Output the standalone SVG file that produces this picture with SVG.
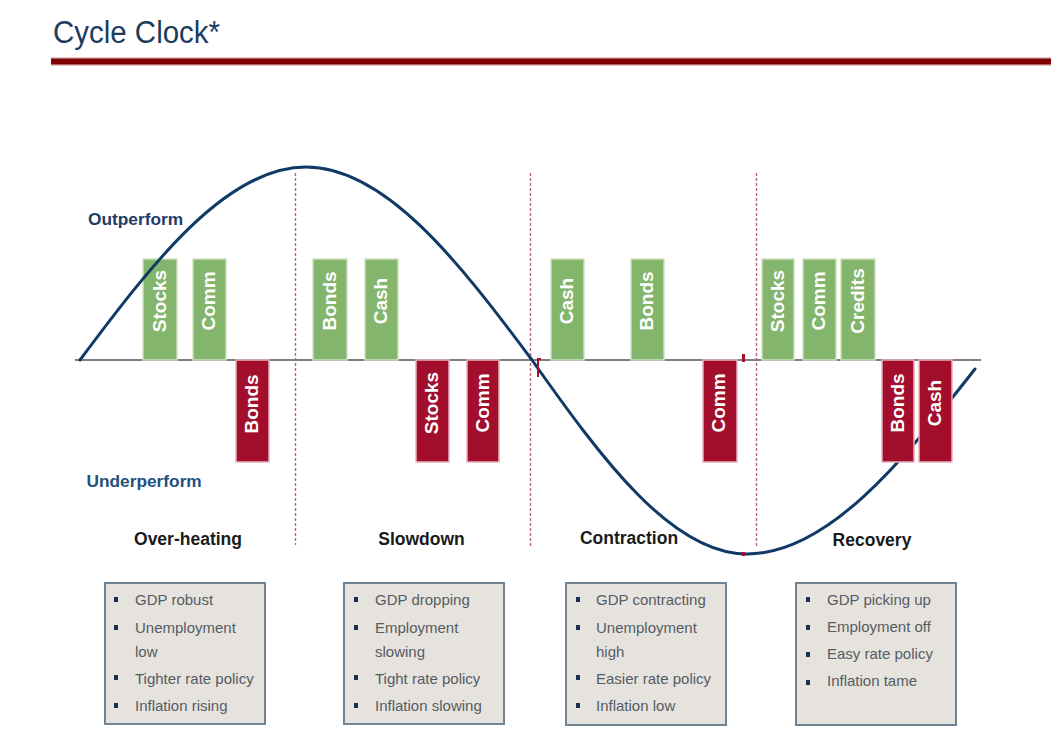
<svg xmlns="http://www.w3.org/2000/svg" width="1051" height="730" viewBox="0 0 1051 730">
  <style>
    .title { font-family: "Liberation Sans", Arial, sans-serif; font-size: 31px; fill: #1c3c5e; }
    .perf { font-family: "Liberation Sans", Arial, sans-serif; font-size: 17.3px; font-weight: bold; fill: #1f3c68; }
    .phase { font-family: "Liberation Sans", Arial, sans-serif; font-size: 17.5px; font-weight: bold; fill: #1a1a1a; text-anchor: middle; }
    .gbar { fill: #84b56d; stroke: #cfe0c2; stroke-width: 1.5; }
    .rbar { fill: #a20e2c; stroke: #e3b3bd; stroke-width: 1.5; }
    .blab { font-family: "Liberation Sans", Arial, sans-serif; font-size: 19px; font-weight: bold; fill: #ffffff; text-anchor: middle; }
    .box { fill: #e6e3df; stroke: #718494; stroke-width: 2; }
    .item { font-family: "Liberation Sans", Arial, sans-serif; font-size: 15px; fill: #555c62; }
    .bul { fill: #1c2e52; }
    .div { stroke: #b8667a; stroke-width: 1.4; stroke-dasharray: 3 2; fill: none; }
    .curve { fill: none; stroke: #0f3a66; stroke-width: 3; stroke-linecap: round; }
    .axis { stroke: #555555; stroke-width: 1.5; }
  </style>

  <rect x="0" y="0" width="1051" height="730" fill="#ffffff"/>

  <!-- header -->
  <g id="header">
    <text class="title" x="53" y="43" textLength="167" lengthAdjust="spacingAndGlyphs">Cycle Clock*</text>
    <rect x="51" y="57" width="1000" height="9" fill="#e2c4c4"/>
    <rect x="51" y="58.5" width="1000" height="6" fill="#7f0000"/>
  </g>

  <!-- connectors: axis, phase dividers, curve -->
  <g id="connectors">
    <line class="axis" x1="75" y1="360" x2="981" y2="360"/>
    <line class="div" x1="295.5" y1="173" x2="295.5" y2="545"/>
    <line class="div" x1="530.5" y1="173" x2="530.5" y2="546"/>
    <line class="div" x1="756.5" y1="173" x2="756.5" y2="547"/>
  </g>

  <!-- green (outperform) bars -->
  <g id="outperform-bars">
    <g id="oh-stocks"><rect class="gbar" x="143" y="259" width="34" height="101"/><text class="blab" transform="translate(165.5,301) rotate(-90)">Stocks</text></g>
    <g id="oh-comm"><rect class="gbar" x="193" y="259" width="33" height="101"/><text class="blab" transform="translate(215,301) rotate(-90)">Comm</text></g>
    <g id="sd-bonds"><rect class="gbar" x="313" y="259" width="34" height="101"/><text class="blab" transform="translate(335.5,301) rotate(-90)">Bonds</text></g>
    <g id="sd-cash"><rect class="gbar" x="365" y="259" width="33" height="101"/><text class="blab" transform="translate(387,301) rotate(-90)">Cash</text></g>
    <g id="ct-cash"><rect class="gbar" x="551" y="259" width="33" height="101"/><text class="blab" transform="translate(573,301) rotate(-90)">Cash</text></g>
    <g id="ct-bonds"><rect class="gbar" x="631" y="259" width="33" height="101"/><text class="blab" transform="translate(653,301) rotate(-90)">Bonds</text></g>
    <g id="rc-stocks"><rect class="gbar" x="762" y="259" width="32" height="101"/><text class="blab" transform="translate(783.5,301) rotate(-90)">Stocks</text></g>
    <g id="rc-comm"><rect class="gbar" x="803" y="259" width="33" height="101"/><text class="blab" transform="translate(825,301) rotate(-90)">Comm</text></g>
    <g id="rc-credits"><rect class="gbar" x="841" y="259" width="34" height="101"/><text class="blab" transform="translate(863.5,301) rotate(-90)">Credits</text></g>
  </g>

  <!-- cycle curve -->
  <g id="cycle-curve">
    <path class="curve" d="M80,360 C153.7,261.1 227,167 306,167 C385,167 458.3,261.1 532,360 C602.1,459.4 671.9,554 747,554 C826.7,554 900.6,463.8 975,369"/>
  </g>

  <!-- red (underperform) bars -->
  <g id="underperform-bars">
    <g id="oh-bonds"><rect class="rbar" x="236" y="360" width="33" height="102"/><text class="blab" transform="translate(258,404) rotate(-90)">Bonds</text></g>
    <g id="sd-stocks"><rect class="rbar" x="416" y="360" width="33" height="102"/><text class="blab" transform="translate(438,403) rotate(-90)">Stocks</text></g>
    <g id="sd-comm"><rect class="rbar" x="467" y="360" width="32" height="102"/><text class="blab" transform="translate(488.5,403) rotate(-90)">Comm</text></g>
    <g id="ct-comm"><rect class="rbar" x="703" y="360" width="34" height="102"/><text class="blab" transform="translate(725,403) rotate(-90)">Comm</text></g>
    <g id="rc-bonds"><rect class="rbar" x="882" y="360" width="32" height="102"/><text class="blab" transform="translate(903.5,403) rotate(-90)">Bonds</text></g>
    <g id="rc-cash"><rect class="rbar" x="919" y="360" width="33" height="102"/><text class="blab" transform="translate(941,403) rotate(-90)">Cash</text></g>
  </g>

  <!-- small marks -->
  <g id="marks" fill="#a20e2c">
    <rect x="537" y="358" width="2" height="19"/>
    <rect x="537" y="358" width="4" height="2"/>
    <rect x="742" y="354" width="3" height="8"/>
    <rect x="742" y="552" width="3" height="4"/>
  </g>

  <!-- axis labels -->
  <g id="labels">
    <text class="perf" x="88" y="225">Outperform</text>
    <text class="perf" x="86.5" y="487" fill="#25507e" style="fill:#25507e">Underperform</text>
  </g>

  <!-- phase titles -->
  <g id="phase-titles">
    <text class="phase" x="188" y="545">Over-heating</text>
    <text class="phase" x="421.5" y="545">Slowdown</text>
    <text class="phase" x="629" y="544">Contraction</text>
    <text class="phase" x="872" y="546">Recovery</text>
  </g>

  <!-- description boxes -->
  <g id="box-overheating">
    <rect class="box" x="105" y="583" width="160" height="141"/>
    <rect class="bul" x="114" y="597" width="4" height="5"/>
    <rect class="bul" x="114" y="625" width="4" height="5"/>
    <rect class="bul" x="114" y="675" width="4" height="5"/>
    <rect class="bul" x="114" y="703" width="4" height="5"/>
    <text class="item" x="135" y="605">GDP robust</text>
    <text class="item" x="135" y="633">Unemployment</text>
    <text class="item" x="135" y="657">low</text>
    <text class="item" x="135" y="684">Tighter rate policy</text>
    <text class="item" x="135" y="711">Inflation rising</text>
  </g>
  <g id="box-slowdown">
    <rect class="box" x="344" y="583" width="160" height="141"/>
    <rect class="bul" x="354" y="597" width="4" height="5"/>
    <rect class="bul" x="354" y="625" width="4" height="5"/>
    <rect class="bul" x="354" y="675" width="4" height="5"/>
    <rect class="bul" x="354" y="703" width="4" height="5"/>
    <text class="item" x="375" y="605">GDP dropping</text>
    <text class="item" x="375" y="633">Employment</text>
    <text class="item" x="375" y="657">slowing</text>
    <text class="item" x="375" y="684">Tight rate policy</text>
    <text class="item" x="375" y="711">Inflation slowing</text>
  </g>
  <g id="box-contraction">
    <rect class="box" x="566" y="583" width="160" height="142"/>
    <rect class="bul" x="576" y="597" width="4" height="5"/>
    <rect class="bul" x="576" y="625" width="4" height="5"/>
    <rect class="bul" x="576" y="675" width="4" height="5"/>
    <rect class="bul" x="576" y="703" width="4" height="5"/>
    <text class="item" x="596" y="605">GDP contracting</text>
    <text class="item" x="596" y="633">Unemployment</text>
    <text class="item" x="596" y="657">high</text>
    <text class="item" x="596" y="684">Easier rate policy</text>
    <text class="item" x="596" y="711">Inflation low</text>
  </g>
  <g id="box-recovery">
    <rect class="box" x="796" y="583" width="160" height="142"/>
    <rect class="bul" x="806" y="597" width="4" height="5"/>
    <rect class="bul" x="806" y="625" width="4" height="5"/>
    <rect class="bul" x="806" y="652" width="4" height="5"/>
    <rect class="bul" x="806" y="680" width="4" height="5"/>
    <text class="item" x="827" y="605">GDP picking up</text>
    <text class="item" x="827" y="632">Employment off</text>
    <text class="item" x="827" y="659">Easy rate policy</text>
    <text class="item" x="827" y="686">Inflation tame</text>
  </g>
</svg>
